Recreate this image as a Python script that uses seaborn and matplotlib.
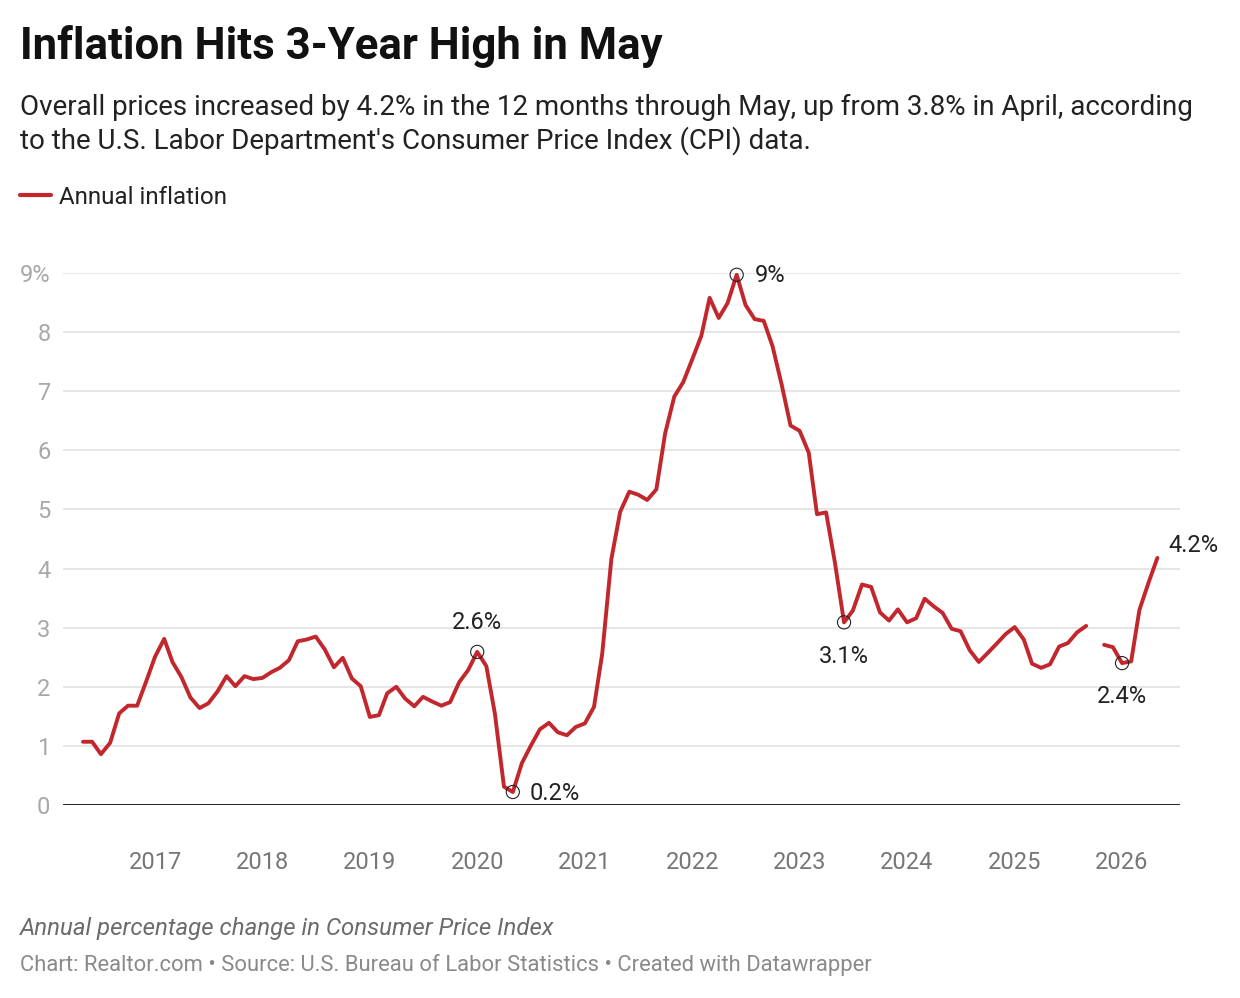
# ==========================================
# Inflation Hits 3-Year High in May
# ==========================================

import numpy as np
import pandas as pd
import seaborn as sns
import matplotlib.pyplot as plt
from matplotlib.lines import Line2D

# ==========================================
# Data (annual % change in CPI, monthly)
# ==========================================

start_month = '2016-05-01'
end_month = '2026-05-01'

inflation = [
    # 2016 May-Dec
    1.07, 1.07, 0.86, 1.05, 1.55, 1.68, 1.68, 2.08,
    # 2017
    2.51, 2.81, 2.42, 2.16, 1.82, 1.64, 1.72, 1.92, 2.18, 2.01, 2.18, 2.13,
    # 2018
    2.15, 2.25, 2.32, 2.45, 2.77, 2.80, 2.85, 2.63, 2.33, 2.49, 2.14, 2.01,
    # 2019
    1.49, 1.52, 1.89, 2.00, 1.80, 1.67, 1.83, 1.75, 1.68, 1.74, 2.08, 2.28,
    # 2020
    2.59, 2.35, 1.55, 0.31, 0.22, 0.71, 1.00, 1.28, 1.39, 1.23, 1.18, 1.32,
    # 2021
    1.38, 1.66, 2.56, 4.16, 4.96, 5.30, 5.25, 5.16, 5.34, 6.29, 6.91, 7.15,
    # 2022
    7.54, 7.94, 8.58, 8.24, 8.49, 8.97, 8.46, 8.22, 8.19, 7.76, 7.11, 6.42,
    # 2023
    6.33, 5.96, 4.92, 4.95, 4.10, 3.09, 3.29, 3.73, 3.69, 3.26, 3.12, 3.31,
    # 2024
    3.09, 3.16, 3.49, 3.36, 3.25, 2.98, 2.94, 2.62, 2.42, 2.57, 2.73, 2.89,
    # 2025 (no October release)
    3.01, 2.80, 2.39, 2.32, 2.38, 2.68, 2.74, 2.92, 3.03, np.nan, 2.71, 2.67,
    # 2026 Jan-May
    2.40, 2.43, 3.30, 3.76, 4.18,
]

# highlighted points: month, label text, label offset (px), alignment
highlight_months = ['2020-01-01', '2020-05-01', '2022-06-01', '2023-06-01', '2026-01-01']
highlight_labels = ['2.6%', '0.2%', '9%', '3.1%', '2.4%']
highlight_offsets = [(0, 29), (17, -2), (18, -1), (0, -34), (0, -33)]
highlight_ha = ['center', 'left', 'left', 'center', 'center']

last_label = '4.2%'

year_ticks = list(range(2017, 2027))
y_ticks = list(range(0, 10))
y_tick_labels = [str(v) for v in y_ticks[:-1]] + ['9%']

# ==========================================
# Build DataFrame
# ==========================================

df = pd.DataFrame({
    'month': pd.date_range(start_month, end_month, freq='MS'),
    'inflation': inflation,
})
# split the series at the missing month so the line shows a gap
df['segment'] = df['inflation'].isna().cumsum()
df = df.dropna()

RED = '#c1272d'
FONT = ['Roboto', 'DejaVu Sans']

# ==========================================
# Plot
# ==========================================

sns.set_theme(style='white')
plt.rcParams['font.family'] = FONT

W, H = 1240, 998
fig = plt.figure(figsize=(W / 100, H / 100), dpi=100)
ax = fig.add_axes([63 / W, 1 - 805 / H, (1180 - 63) / W, (805 - 273) / H])

sns.lineplot(
    data=df, x='month', y='inflation', units='segment', estimator=None,
    color=RED, linewidth=2.8, ax=ax, clip_on=False, legend=False,
)

# axis limits (dates)
ax.set_xlim(pd.Timestamp('2016-02-23'), pd.Timestamp('2026-07-17'))
ax.set_ylim(0, 9)

# grid + baseline
ax.set_yticks(y_ticks)
ax.set_yticklabels(y_tick_labels)
ax.yaxis.grid(True, color='#e2e2e2', linewidth=1.2)
ax.xaxis.grid(False)
ax.axhline(0, color='#111111', linewidth=2, zorder=3)
sns.despine(ax=ax, left=True, bottom=True)

ax.set_xticks([pd.Timestamp(f'{y}-01-01') for y in year_ticks])
ax.set_xticklabels([str(y) for y in year_ticks])

ax.tick_params(axis='y', length=0, pad=9, labelsize=17, labelcolor='#a8a8a8')
ax.tick_params(axis='x', length=0, pad=33, labelsize=17, labelcolor='#767676')
for lab in ax.get_yticklabels():
    lab.set_horizontalalignment('right')
ax.set_xlabel('')
ax.set_ylabel('')

# ==========================================
# Highlight markers & labels
# ==========================================

hl = df.set_index('month').loc[pd.to_datetime(highlight_months)]
ax.scatter(hl.index, hl['inflation'], s=90, facecolors='none',
           edgecolors='#222222', linewidths=0.8, zorder=5, clip_on=False)

for (m, row), text, off, ha in zip(hl.iterrows(), highlight_labels,
                                   highlight_offsets, highlight_ha):
    ax.annotate(text, (m, row['inflation']), xytext=off,
                textcoords='offset pixels', ha=ha, va='center',
                fontsize=17, color='#222222', annotation_clip=False)

last = df.iloc[-1]
ax.annotate(last_label, (last['month'], last['inflation']), xytext=(11, 12),
            textcoords='offset pixels', ha='left', va='center',
            fontsize=17, color='#222222', annotation_clip=False)

# ==========================================
# Titles, legend, footer
# ==========================================

fig.text(20 / W, 1 - 46 / H, 'Inflation Hits 3-Year High in May',
         fontsize=31.5, fontweight='bold', color='#111111', va='center')
fig.text(20 / W, 1 - 124.5 / H,
         "Overall prices increased by 4.2% in the 12 months through May, up from 3.8% in April, according\n"
         "to the U.S. Labor Department's Consumer Price Index (CPI) data.",
         fontsize=20, color='#222222', va='center', linespacing=1.27)

ax.legend(handles=[Line2D([], [], color=RED, linewidth=3)],
          labels=['Annual inflation'], loc='center left',
          bbox_to_anchor=(20 / W, 1 - 197 / H), bbox_transform=fig.transFigure,
          frameon=False, fontsize=17.4, handlelength=1.3, handletextpad=0.3,
          borderpad=0, borderaxespad=0, labelcolor='#222222')

fig.text(20 / W, 1 - 928 / H, 'Annual percentage change in Consumer Price Index',
         fontsize=17.3, fontstyle='italic', color='#6b6b6b', va='center')
fig.text(20 / W, 1 - 965 / H,
         'Chart: Realtor.com \u2022 Source: U.S. Bureau of Labor Statistics \u2022 Created with Datawrapper',
         fontsize=15.8, color='#8a8a8a', va='center')

fig.savefig('out.png', dpi=100, facecolor='white')
